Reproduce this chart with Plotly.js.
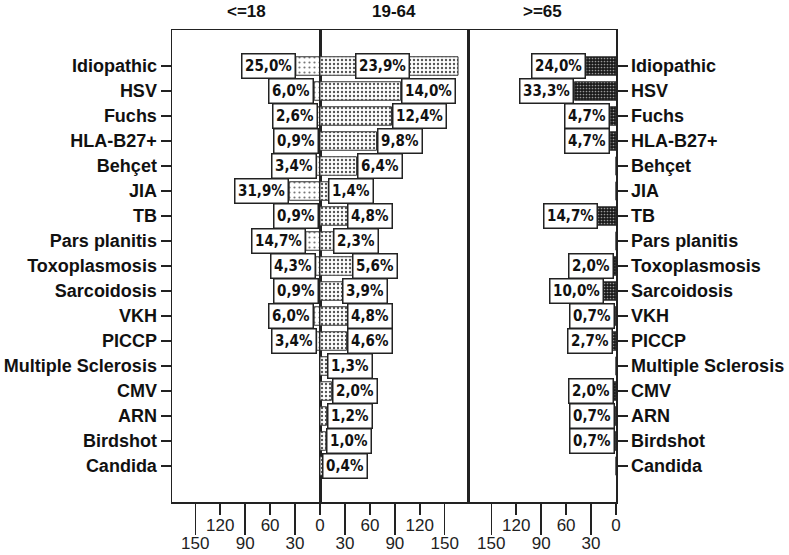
<!DOCTYPE html>
<html>
<head>
<meta charset="utf-8">
<script src="https://cdn.plot.ly/plotly-3.0.1.min.js"></script>
<style>html,body{margin:0;padding:0;background:#fff;}#chart{width:789px;height:555px;}</style>
</head>
<body>
<div id="chart"></div>
<script>
const categories = ['Idiopathic','HSV','Fuchs','HLA-B27+','Behçet','JIA','TB','Pars planitis','Toxoplasmosis','Sarcoidosis','VKH','PICCP','Multiple Sclerosis','CMV','ARN','Birdshot','Candida'];
const groupNames = ['<=18','19-64','>=65'];

const countsChild = [29,7,3,1,4,37,1,17,5,1,7,4,0,0,0,0,0];
const pctChild = ['25,0%','6,0%','2,6%','0,9%','3,4%','31,9%','0,9%','14,7%','4,3%','0,9%','6,0%','3,4%','','','','',''];

const countsAdult = [166,97,86,68,44,10,33,16,39,27,33,32,9,14,8,7,3];
const pctAdult = ['23,9%','14,0%','12,4%','9,8%','6,4%','1,4%','4,8%','2,3%','5,6%','3,9%','4,8%','4,6%','1,3%','2,0%','1,2%','1,0%','0,4%'];

const countsOld = [36,50,7,7,0,0,22,0,3,15,1,4,0,3,1,1,0];
const pctOld = ['24,0%','33,3%','4,7%','4,7%','','','14,7%','','2,0%','10,0%','0,7%','2,7%','','2,0%','0,7%','0,7%',''];

const axisMax = 178;
const longTicks = [30,90,150];
const shortTicksLeft = [0,60,120];
const shortTicksMid = [60,120];

const FONT = 'Liberation Sans, Arial, sans-serif';
const NARROW = 'Liberation Sans Narrow, Arial Narrow, DejaVu Sans Condensed, Liberation Sans, Arial, sans-serif';
const INK = '#222';

function barTrace(counts, xa, ya, pattern, color){
  return {
    type:'bar', orientation:'h', x:counts, y:categories,
    xaxis:xa, yaxis:ya, width:0.74,
    marker:{color:color, line:{color:'#333', width:1}, pattern:pattern},
    hoverinfo:'skip', showlegend:false
  };
}
function ghost(xa, ya){
  return {type:'scatter', mode:'markers', x:[], y:[], xaxis:xa, yaxis:ya, showlegend:false, hoverinfo:'skip'};
}

const data = [
  barTrace(countsChild,'x','y',{shape:'.', fgcolor:'#777', bgcolor:'#fff', size:5, solidity:0.15, fillmode:'replace'}, '#fff'),
  barTrace(countsAdult,'x2','y2',{shape:'.', fgcolor:'#555', bgcolor:'#fff', size:4, solidity:0.28, fillmode:'replace'}, '#fff'),
  barTrace(countsOld,'x3','y3',{shape:'.', fgcolor:'#999', bgcolor:'#1a1a1a', size:3, solidity:0.25, fillmode:'replace'}, '#1a1a1a'),
  ghost('x4','y'), ghost('x5','y2'), ghost('x6','y3')
];

const annotations = [];
function addLabels(counts, pcts, xref, yref, side){
  counts.forEach((v,i)=>{
    if(!pcts[i]) return;
    let x = v, xanchor = side;
    if(side === 'left' && v > axisMax*0.72){ x = v*0.45; xanchor = 'center'; }
    annotations.push({
      x:x, y:categories[i], xref:xref, yref:yref, xanchor:xanchor, yanchor:'middle',
      text:pcts[i], showarrow:false,
      font:{family:NARROW, size:15, color:'#111', weight:'bold'},
      bgcolor:'#fff', bordercolor:'#222', borderwidth:1.5, borderpad:2.5
    });
  });
}
addLabels(countsChild, pctChild, 'x', 'y', 'right');
addLabels(countsAdult, pctAdult, 'x2', 'y2', 'left');
addLabels(countsOld, pctOld, 'x3', 'y3', 'right');

['x','x2','x3'].forEach((xr,k)=>{
  annotations.push({
    x:0.5, y:1, xref:xr+' domain', yref:'paper', xanchor:'center', yanchor:'bottom', yshift:7,
    text:groupNames[k], showarrow:false,
    font:{family:FONT, size:17, color:'#111', weight:'bold'}
  });
});

function xMain(domain, range){
  return {
    domain:domain, range:range, anchor:'y', autorange:false,
    tickmode:'array', tickvals:longTicks, ticktext:longTicks.map(String),
    ticks:'outside', ticklen:31, tickwidth:1.5, tickcolor:INK,
    ticklabelstandoff:-6,
    showline:true, mirror:true, linecolor:INK, linewidth:1.5,
    showgrid:false, zeroline:false,
    tickfont:{family:FONT, size:17, color:INK}
  };
}
function xShort(over, range, vals){
  return {
    overlaying:over, range:range, anchor:'y', autorange:false,
    tickmode:'array', tickvals:vals, ticktext:vals.map(String),
    ticks:'outside', ticklen:12, tickwidth:1.5, tickcolor:INK,
    ticklabelstandoff:-4,
    showline:false, showgrid:false, zeroline:false,
    tickfont:{family:FONT, size:17, color:INK}
  };
}
function yAx(anchor, side, labels){
  return {
    type:'category', categoryorder:'array', categoryarray:categories,
    range:[17.44,-1.44], autorange:false, anchor:anchor, side:side,
    showline:true, mirror:true, linecolor:INK, linewidth:1.5,
    ticks: labels ? 'outside' : '', ticklen:10, tickwidth:1.5, tickcolor:INK,
    showticklabels:labels, showgrid:false, zeroline:false,
    tickfont:{family:FONT, size:18, color:'#111', weight:'bold'}
  };
}

const layout = {
  width:789, height:555,
  margin:{l:172, r:173, t:30, b:53},
  paper_bgcolor:'#fff', plot_bgcolor:'#fff',
  showlegend:false, hovermode:false, barmode:'overlay',
  xaxis: xMain([0,1/3],[axisMax,0]),
  xaxis2: Object.assign(xMain([1/3,2/3],[0,axisMax]), {anchor:'y2'}),
  xaxis3: Object.assign(xMain([2/3,1],[axisMax,0]), {anchor:'y3'}),
  xaxis4: xShort('x',[axisMax,0],shortTicksLeft),
  xaxis5: Object.assign(xShort('x2',[0,axisMax],shortTicksMid), {anchor:'y2'}),
  xaxis6: Object.assign(xShort('x3',[axisMax,0],shortTicksLeft), {anchor:'y3'}),
  yaxis: yAx('x','left',true),
  yaxis2: yAx('x2','left',false),
  yaxis3: yAx('x3','right',true),
  annotations: annotations
};

Plotly.newPlot('chart', data, layout, {displayModeBar:false, staticPlot:true});
</script>
</body>
</html>
